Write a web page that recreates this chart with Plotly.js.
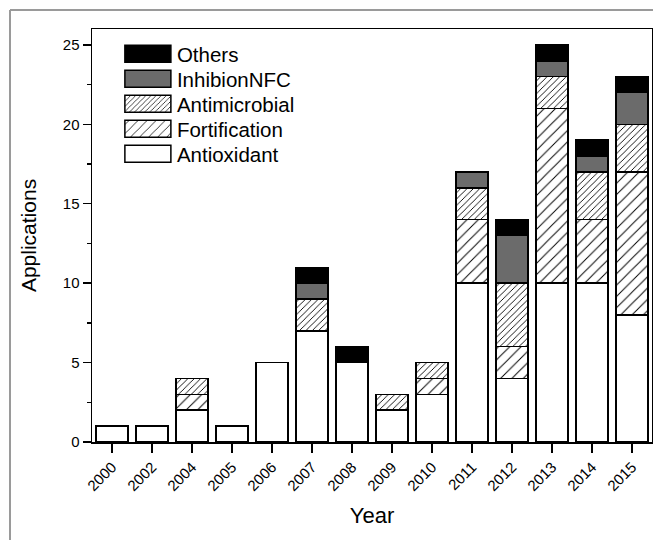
<!DOCTYPE html>
<html>
<head>
<meta charset="utf-8">
<script src="https://cdn.plot.ly/plotly-3.0.1.min.js"></script>
<style>
  html, body { margin: 0; padding: 0; background: #fff; }
  #wrap { position: relative; width: 653px; height: 540px; overflow: hidden; }
  #chart { position: absolute; left: 0; top: 0; width: 653px; height: 540px; }
  #frameTop { position: absolute; left: 10px; top: 9px; width: 643px; height: 0; border-top: 2px solid #9a9a9a; }
  #frameLeft { position: absolute; left: 9px; top: 10px; width: 0; height: 530px; border-left: 2px solid #9a9a9a; }
</style>
</head>
<body>
<div id="wrap">
  <div id="chart"></div>
  <div id="frameTop"></div>
  <div id="frameLeft"></div>
</div>
<script>
const years = ['2000','2002','2004','2005','2006','2007','2008','2009','2010','2011','2012','2013','2014','2015'];
const antioxidant   = [1, 1, 2, 1, 5, 7, 5, 2, 3, 10, 4, 10, 10, 8];
const fortification = [0, 0, 1, 0, 0, 0, 0, 0, 1, 4, 2, 11, 4, 9];
const antimicrobial = [0, 0, 1, 0, 0, 2, 0, 1, 1, 2, 4, 2, 3, 3];
const inhibionNFC   = [0, 0, 0, 0, 0, 1, 0, 0, 0, 1, 3, 1, 1, 2];
const others        = [0, 0, 0, 0, 0, 1, 1, 0, 0, 0, 1, 1, 1, 1];
const yTicks = [0, 5, 10, 15, 20, 25];

const line = {color: '#000', width: 1.5};
function mk(name, vals, marker) {
  return {
    type: 'bar', name: name, x: years, y: vals.map(v => v === 0 ? null : v),
    marker: Object.assign({line: line}, marker), hoverinfo: 'skip'
  };
}
const traces = [
  mk('Antioxidant', antioxidant, {color: '#ffffff'}),
  mk('Fortification', fortification, {color: '#ffffff', pattern: {shape: '/', size: 8, solidity: 0.12, fgcolor: '#000', bgcolor: '#ffffff'}}),
  mk('Antimicrobial', antimicrobial, {color: '#ffffff', pattern: {shape: '/', size: 4.5, solidity: 0.2, fgcolor: '#000', bgcolor: '#ffffff'}}),
  mk('InhibionNFC', inhibionNFC, {color: '#6b6b6b'}),
  mk('Others', others, {color: '#000000'})
];

const font = {family: '"Liberation Sans", Arial, sans-serif', color: '#000'};
const layout = {
  width: 653, height: 540,
  margin: {l: 92, r: 1, t: 29, b: 98, pad: 0},
  paper_bgcolor: '#fff', plot_bgcolor: '#fff',
  barmode: 'stack', bargap: 0.2,
  font: Object.assign({size: 15}, font),
  showlegend: true,
  legend: {
    x: 0.048, y: 0.988, xanchor: 'left', yanchor: 'top',
    traceorder: 'reversed', itemwidth: 48,
    font: Object.assign({size: 20.5}, font),
    bgcolor: 'rgba(0,0,0,0)', borderwidth: 0
  },
  xaxis: {
    type: 'category', range: [-0.5, 13.5],
    showline: true, linecolor: '#000', linewidth: 1.5, mirror: true,
    ticks: 'outside', ticklen: 9, tickwidth: 1.5, tickcolor: '#000',
    tickangle: -45, tickfont: Object.assign({size: 15}, font),
    showgrid: false, zeroline: false,
    title: {text: 'Year', font: Object.assign({size: 22}, font), standoff: 14}
  },
  yaxis: {
    range: [0, 26], tickvals: yTicks, ticktext: yTicks.map(String),
    showline: true, linecolor: '#000', linewidth: 1.5, mirror: true,
    ticks: 'outside', ticklen: 8, tickwidth: 1.5, tickcolor: '#000',
    tickfont: Object.assign({size: 15}, font),
    minor: {dtick: 2.5, tick0: 0, ticks: 'outside', ticklen: 4, tickwidth: 1.5, tickcolor: '#000', showgrid: false},
    showgrid: false, zeroline: false,
    title: {text: 'Applications', font: Object.assign({size: 21}, font), standoff: 20}
  }
};

Plotly.newPlot('chart', traces, layout, {displayModeBar: false, staticPlot: true}).then(function(gd) {
  gd.querySelectorAll('.legend .traces .legendpoints path').forEach(function(p) {
    p.setAttribute('d', 'M23,8.5H-23V-8.5H23Z');
  });
  const items = Array.from(gd.querySelectorAll('.legend .traces'));
  const parsed = items.map(function(g) {
    const m = /translate\(\s*([-\d.e]+)[ ,]+([-\d.e]+)\s*\)/.exec(g.getAttribute('transform') || '');
    return {g: g, x: m ? parseFloat(m[1]) : 0, y: m ? parseFloat(m[2]) : 0};
  }).sort(function(a, b) { return a.y - b.y; });
  if (parsed.length) {
    const y0 = parsed[0].y;
    parsed.forEach(function(it, i) {
      it.g.setAttribute('transform', 'translate(' + it.x + ',' + (y0 + i * 25) + ')');
    });
  }
});
</script>
</body>
</html>
